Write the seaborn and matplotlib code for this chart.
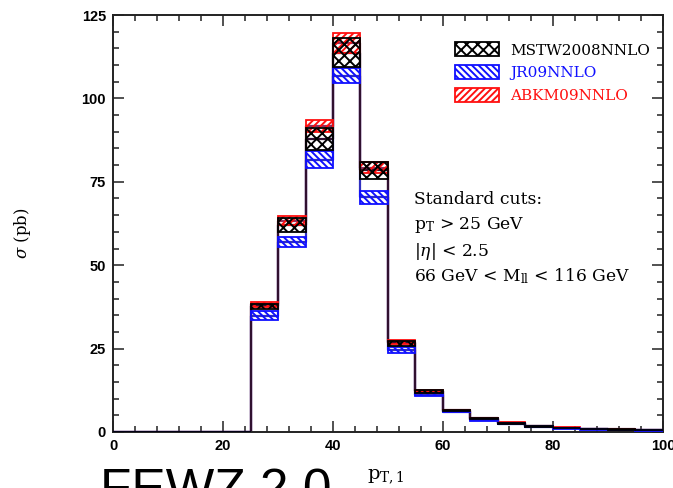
import numpy as np
import pandas as pd
import matplotlib
matplotlib.use("Agg")
import matplotlib.pyplot as plt
import seaborn as sns
from matplotlib.patches import Patch
from matplotlib.ticker import MultipleLocator

# 5 GeV bins of the leading-lepton pT
bin_edges = list(range(0, 105, 5))

# PDF uncertainty bands per bin (pb); bins below 25 GeV are empty
mstw_lo = [0, 0, 0, 0, 0, 36.9, 60.0, 84.5, 109.5, 75.8, 25.9, 11.8, 6.2, 3.8, 2.5, 1.6, 1.1, 0.8, 0.6, 0.5]
mstw_hi = [0, 0, 0, 0, 0, 38.4, 64.3, 91.0, 118.0, 81.0, 27.3, 12.6, 6.6, 4.1, 2.8, 1.8, 1.3, 0.9, 0.8, 0.6]
jr09_lo = [0, 0, 0, 0, 0, 33.6, 55.5, 79.0, 104.5, 68.3, 23.6, 10.8, 5.9, 3.4, 2.3, 1.5, 1.0, 0.7, 0.5, 0.4]
jr09_hi = [0, 0, 0, 0, 0, 36.2, 58.4, 84.3, 109.0, 72.3, 25.6, 11.6, 6.3, 3.8, 2.6, 1.7, 1.2, 0.85, 0.7, 0.55]
abkm_lo = [0, 0, 0, 0, 0, 37.6, 62.0, 90.0, 113.5, 77.5, 26.3, 12.0, 6.3, 3.9, 2.6, 1.7, 1.15, 0.85, 0.65, 0.5]
abkm_hi = [0, 0, 0, 0, 0, 38.9, 64.7, 93.5, 119.5, 81.0, 27.6, 12.6, 6.7, 4.2, 2.9, 1.9, 1.35, 0.95, 0.8, 0.6]

pdf_names = ["MSTW2008NNLO", "JR09NNLO", "ABKM09NNLO"]
pdf_colors = ["black", "#1010ff", "#ff1010"]
pdf_hatches = ["xxx", "\\\\\\\\\\", "/////"]

cut_lines = ["Standard cuts:",
             r"p$_\mathregular{T}$ > 25 GeV",
             r"|$\eta$| < 2.5",
             r"66 GeV < M$_\mathregular{ll}$ < 116 GeV"]

sns.set_style("ticks")
plt.rcParams["hatch.linewidth"] = 1.4
plt.rcParams["mathtext.fontset"] = "dejavuserif"
plt.rcParams["text.color"] = "black"

fig = plt.figure(figsize=(6.73, 4.88), dpi=100)
ax = fig.add_axes([0.168, 0.115, 0.817, 0.854])

edges = np.array(bin_edges, dtype=float)
width = np.diff(edges)

bands = {
    "MSTW2008NNLO": (np.array(mstw_lo), np.array(mstw_hi)),
    "JR09NNLO": (np.array(jr09_lo), np.array(jr09_hi)),
    "ABKM09NNLO": (np.array(abkm_lo), np.array(abkm_hi)),
}

# central-value step outlines
for name, color in zip(["JR09NNLO", "ABKM09NNLO", "MSTW2008NNLO"], ["#3030c0", "#903060", "#301030"]):
    lo, hi = bands[name]
    mid = 0.5 * (lo + hi)
    df = pd.DataFrame({"pt": edges, "xsec": np.append(mid, mid[-1])})
    sns.lineplot(data=df, x="pt", y="xsec", drawstyle="steps-post",
                 color=color, linewidth=1.6, ax=ax)

# hatched uncertainty bands
for name in ["ABKM09NNLO", "JR09NNLO", "MSTW2008NNLO"]:
    i = pdf_names.index(name)
    lo, hi = bands[name]
    ax.bar(edges[:-1], hi - lo, bottom=lo, width=width, align="edge",
           facecolor="none", edgecolor=pdf_colors[i], hatch=pdf_hatches[i],
           linewidth=1.3, zorder=3)

ax.set_xlim(0, 100)
ax.set_ylim(0, 125)
ax.xaxis.set_major_locator(MultipleLocator(20))
ax.xaxis.set_minor_locator(MultipleLocator(4))
ax.yaxis.set_major_locator(MultipleLocator(25))
ax.yaxis.set_minor_locator(MultipleLocator(5))
ax.tick_params(which="both", direction="in", top=True, right=True, width=1.1,
               color="#222222", labelcolor="black")
ax.tick_params(which="major", length=8, labelsize=10.5, pad=5)
ax.tick_params(which="minor", length=4)
for lab in ax.get_xticklabels() + ax.get_yticklabels():
    lab.set_fontweight("bold")
    lab.set_family("Liberation Sans")
for sp in ax.spines.values():
    sp.set_linewidth(1.4)
    sp.set_color("#222222")

ax.set_xlabel(r"p$_\mathregular{T,1}$", family="DejaVu Serif", fontsize=14, color="black")
ax.xaxis.set_label_coords(0.495, -0.086)
ax.set_ylabel(r"$\sigma$ (pb)", family="DejaVu Serif", fontsize=12, color="black")
ax.yaxis.set_label_coords(-0.146, 0.477)

handles = [Patch(facecolor="white", edgecolor=c, hatch=h, linewidth=1.3)
           for c, h in zip(pdf_colors, pdf_hatches)]
leg = ax.legend(handles, pdf_names, loc="upper left", bbox_to_anchor=(0.597, 0.968),
                frameon=False, handlelength=2.85, handleheight=1.05, handletextpad=0.75,
                labelspacing=0.5, prop={"family": "DejaVu Serif", "size": 11},
                labelcolor=pdf_colors)

for k, line in enumerate(cut_lines):
    ax.text(0.548, 0.557 - k * 0.0615, line, transform=ax.transAxes,
            family="DejaVu Serif", fontsize=12.3, va="center", ha="left", color="black")

fig.text(0.148, 0.041, "FEWZ 2.0", family="Liberation Sans", fontsize=37,
         va="top", ha="left", color="black")

fig.savefig("out.png", dpi=100)
